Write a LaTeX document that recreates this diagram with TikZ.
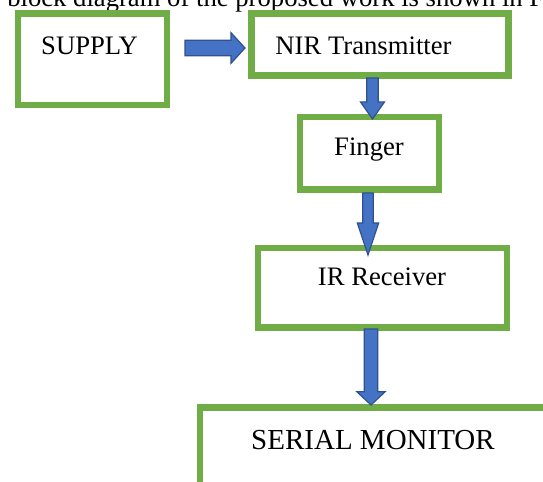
\documentclass[tikz,border=0pt]{standalone}
\usepackage{fontspec}
\setmainfont{Liberation Serif}
\usetikzlibrary{calc}

\definecolor{boxgreen}{HTML}{70AD47}
\definecolor{arrowblue}{HTML}{4472C4}
\definecolor{arrowedge}{HTML}{2F528F}

\tikzset{
  blockbox/.style={rectangle,draw=boxgreen,line width=4.7pt,inner sep=0pt},
  blocktext/.style={anchor=base,inner sep=0pt,font=\fontsize{20}{24}\selectfont},
  arrowbody/.style={fill=arrowblue,draw=arrowedge,line width=0.9pt,line join=miter},
}

% start, end, half shaft, half head, head length
\newcommand{\fatarrow}[5]{%
  \coordinate (hb) at ($(#2)!#5!(#1)$);
  \draw[arrowbody] ($(#1)!#3!90:(#2)$) -- ($(hb)!#3!90:(#2)$) -- ($(hb)!#4!90:(#2)$)
    -- (#2) -- ($(hb)!#4!-90:(#2)$) -- ($(hb)!#3!-90:(#2)$) -- ($(#1)!#3!-90:(#2)$) -- cycle;
}

\begin{document}
\begin{tikzpicture}[x=0.75pt,y=-0.75pt]
        \useasboundingbox (0,0) rectangle (543,482);
        \clip (0,0) rectangle (543,482);

        \node at (7,6) [anchor=base west,inner sep=0pt,font=\fontsize{20}{24}\selectfont] (intro) {block diagram of the proposed work is shown in F};

        \node at (92.5,59.25) [blockbox,minimum width=111.75pt,minimum height=68.6pt] (supply) {};
        \node at (380,44.5) [blockbox,minimum width=192.75pt,minimum height=46.5pt] (nir) {};
        \node at (369.5,153.1) [blockbox,minimum width=104.25pt,minimum height=54.6pt] (finger) {};
        \node at (382.5,287.75) [blockbox,minimum width=186.75pt,minimum height=59.6pt] (ir) {};
        \node at (197.2,404.4) [blockbox,anchor=north west,minimum width=300pt,minimum height=150pt] (serial) {};

        \node at (89.5,54.7) [blocktext] (supplytxt) {SUPPLY};
        \node at (363.5,54.5) [blocktext] (nirtxt) {NIR Transmitter};
        \node at (369,155) [blocktext] (fingertxt) {Finger};
        \node at (382,285.7) [blocktext] (irtxt) {IR Receiver};
        \node at (373,449) [blocktext,font=\fontsize{21.75}{26}\selectfont] (serialtxt) {SERIAL MONITOR};

        \coordinate (a1s) at ($(supply.east)+(14.9,-11.25)$);
        \coordinate (a1e) at ($(nir.west)+(-3.4,3.5)$);
        \coordinate (a2s) at ($(nir.south)+(-7.5,-0.6)$);
        \coordinate (a2e) at ($(finger.north)+(3,5.4)$);
        \coordinate (a3s) at ($(finger.south)+(-1.5,0.4)$);
        \coordinate (a3e) at ($(ir.north)+(-14.5,10.1)$);
        \coordinate (a4s) at ($(ir.south)+(-11.5,-1.6)$);
        \coordinate (a4e) at ($(serial.north west)+(173.8,0.6)$);

        \fatarrow{a1s}{a1e}{5.85pt}{11.5pt}{10.5pt}
        \fatarrow{a2s}{a2e}{4.35pt}{9pt}{12.75pt}
        \fatarrow{a3s}{a3e}{4pt}{8pt}{24pt}
        \fatarrow{a4s}{a4e}{5.1pt}{10.65pt}{10pt}
      \end{tikzpicture}
\end{document}
